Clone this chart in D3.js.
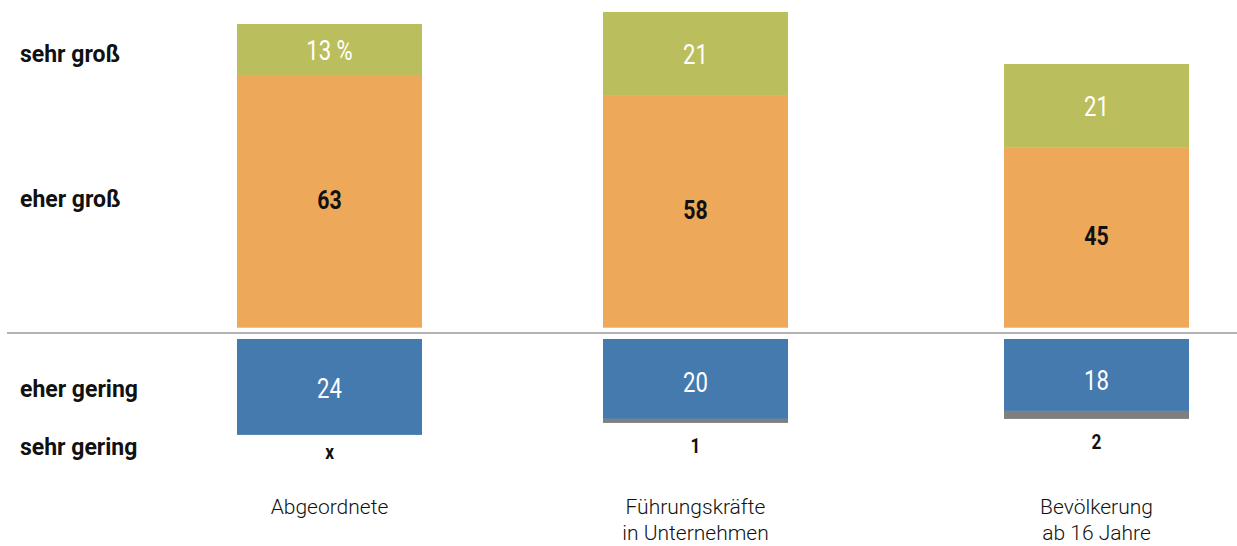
<!DOCTYPE html>
<html>
<head>
<meta charset="utf-8">
<script src="https://cdn.jsdelivr.net/npm/d3@7"></script>
<style>
  html, body { margin: 0; padding: 0; background: #fff; }
  svg { display: block; }
  .row-label { font-family: Roboto, "Noto Sans", sans-serif; font-weight: 700; font-size: 23px; fill: #111; }
  .val { font-family: Roboto, sans-serif; font-weight: 400; font-size: 27px; }
  .val-bold { font-family: Roboto, sans-serif; font-weight: 700; font-size: 26px; fill: #111; }
  .val-small { font-family: Roboto, sans-serif; font-weight: 700; font-size: 21px; fill: #111; }
  .cat { font-family: Roboto, sans-serif; font-weight: 300; font-size: 21px; fill: #111; }
</style>
</head>
<body>
<svg id="chart" width="1237" height="546"></svg>
<script>
// Groups (x axis) and their two-line captions
const groups = ["Abgeordnete", "Führungskräfte in Unternehmen", "Bevölkerung ab 16 Jahre"];
const groupLines = [["Abgeordnete"], ["Führungskräfte", "in Unternehmen"], ["Bevölkerung", "ab 16 Jahre"]];

// Answer categories
const rowLabels = ["sehr groß", "eher groß", "eher gering", "sehr gering"];

// Percent values per group
const sehrGross  = [13, 21, 21];
const eherGross  = [63, 58, 45];
const eherGering = [24, 20, 18];
const sehrGering = [null, 1, 2];   // null = not reported ("x")

const colors = { sehrGross: "#bbbe5d", eherGross: "#eda85a", eherGering: "#457aaf", sehrGering: "#7f7f7f" };

const svg = d3.select("#chart");

// Horizontal placement of the three columns
const x = d3.scaleOrdinal().domain(groups).range([237, 603, 1004]);
const barW = 185;

// Positive stack grows upward from the baseline, negative stack downward
const yPos = d3.scaleLinear().domain([0, 80]).range([327.7, 327.7 - 80 * 3.996]);
const yNeg = d3.scaleLinear().domain([0, 25]).range([339, 339 + 25 * 3.996]);

// Condensed number labels
function label(cls, cx, y, txt, fill) {
  const t = svg.append("text").attr("class", cls)
    .attr("transform", `translate(${cx},${y}) scale(0.82,1)`)
    .attr("text-anchor", "middle")
    .text(txt);
  if (fill) t.attr("fill", fill);
  return t;
}

// Divider between positive and negative answers
svg.append("line")
  .attr("x1", 7).attr("x2", 1237)
  .attr("y1", 333).attr("y2", 333)
  .attr("stroke", "#9a9a9a").attr("stroke-width", 1.5);

groups.forEach((g, i) => {
  const x0 = x(g), cx = x0 + barW / 2;

  // eher groß
  svg.append("rect").attr("x", x0).attr("width", barW)
    .attr("y", yPos(eherGross[i])).attr("height", yPos(0) - yPos(eherGross[i]))
    .attr("fill", colors.eherGross);
  // sehr groß on top
  const top = eherGross[i] + sehrGross[i];
  svg.append("rect").attr("x", x0).attr("width", barW)
    .attr("y", yPos(top)).attr("height", yPos(eherGross[i]) - yPos(top))
    .attr("fill", colors.sehrGross);

  // eher gering
  svg.append("rect").attr("x", x0).attr("width", barW)
    .attr("y", yNeg(0)).attr("height", yNeg(eherGering[i]) - yNeg(0))
    .attr("fill", colors.eherGering);
  // sehr gering below
  const sg = sehrGering[i] || 0;
  const bottom = eherGering[i] + sg;
  if (sg > 0) {
    svg.append("rect").attr("x", x0).attr("width", barW)
      .attr("y", yNeg(eherGering[i])).attr("height", yNeg(bottom) - yNeg(eherGering[i]))
      .attr("fill", colors.sehrGering);
  }

  // Value labels
  label("val", cx, (yPos(top) + yPos(eherGross[i])) / 2 + 10.5,
        i === 0 ? sehrGross[i] + " %" : sehrGross[i], "#fff");
  label("val-bold", cx, (yPos(eherGross[i]) + yPos(0)) / 2 + 7, eherGross[i]);
  label("val", cx, (yNeg(0) + yNeg(bottom)) / 2 + 11, eherGering[i], "#fff");
  label("val-small", cx, yNeg(bottom) + (sehrGering[i] == null ? 24 : 30),
        sehrGering[i] == null ? "x" : sehrGering[i]);

  // Group caption
  const cap = svg.append("text").attr("class", "cat").attr("text-anchor", "middle")
    .attr("x", cx).attr("y", 514);
  groupLines[i].forEach((ln, j) => {
    cap.append("tspan").attr("x", cx).attr("dy", j === 0 ? 0 : 26).text(ln);
  });
});

// Row labels on the left
const rowY = [61.5, 206.5, 396.5, 455];
rowLabels.forEach((t, i) => {
  svg.append("text").attr("class", "row-label")
    .attr("x", 20).attr("y", rowY[i])
    .text(t);
});
</script>
</body>
</html>
